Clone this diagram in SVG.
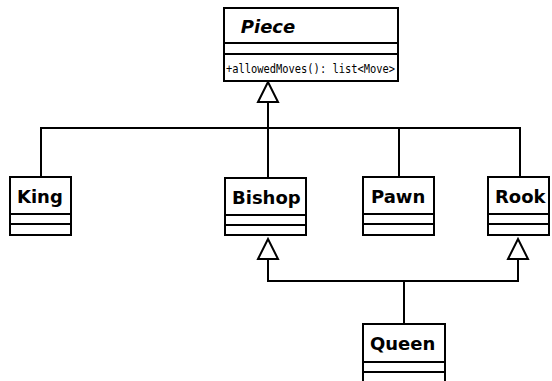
<svg xmlns="http://www.w3.org/2000/svg" width="552" height="381" viewBox="0 0 552 381">
<style>
.box{fill:#fff;stroke:#000;stroke-width:2}
.sep{stroke:#000;stroke-width:2}
.name{font-family:"DejaVu Sans",sans-serif;font-weight:bold;font-size:18px;fill:#000}
.attr{font-family:"DejaVu Sans Mono",monospace;font-size:12.5px;fill:#000}
.conn{fill:none;stroke:#000;stroke-width:2}
</style>
<defs>
<marker id="gen" markerUnits="userSpaceOnUse" markerWidth="24" markerHeight="24" viewBox="-2 -2 24 24" refX="20" refY="10" orient="auto">
<path d="M0,0 L20,10 L0,20 z" fill="#fff" stroke="#000" stroke-width="2"/>
</marker>
</defs>
<rect width="552" height="381" fill="#fff"/>
<g id="connectors">
<path class="conn" d="M41,177 V128 H520 V177"/>
<path class="conn" d="M399,177 V128"/>
<path class="conn" d="M268,178 V82" marker-end="url(#gen)"/>
<path class="conn" d="M404,324 V281 H268 V239" marker-end="url(#gen)"/>
<path class="conn" d="M404,281 H518 V239" marker-end="url(#gen)"/>
</g>
<g id="Piece">
<rect class="box" x="224" y="8" width="174" height="73"/>
<line class="sep" x1="224" y1="43" x2="398" y2="43"/>
<line class="sep" x1="224" y1="54" x2="398" y2="54"/>
<text class="name" x="268" y="33" text-anchor="middle" font-style="italic">Piece</text>
<text class="attr" x="226" y="73" textLength="169" lengthAdjust="spacingAndGlyphs">+allowedMoves(): list&lt;Move&gt;</text>
</g>
<g id="King">
<rect class="box" x="10" y="177" width="61" height="58"/>
<line class="sep" x1="10" y1="214" x2="71" y2="214"/>
<line class="sep" x1="10" y1="224" x2="71" y2="224"/>
<text class="name" x="17" y="203">King</text>
</g>
<g id="Bishop">
<rect class="box" x="225" y="178" width="81" height="57"/>
<line class="sep" x1="225" y1="215" x2="306" y2="215"/>
<line class="sep" x1="225" y1="225" x2="306" y2="225"/>
<text class="name" x="232" y="204">Bishop</text>
</g>
<g id="Pawn">
<rect class="box" x="363" y="177" width="71" height="58"/>
<line class="sep" x1="363" y1="214" x2="434" y2="214"/>
<line class="sep" x1="363" y1="224" x2="434" y2="224"/>
<text class="name" x="371" y="203">Pawn</text>
</g>
<g id="Rook">
<rect class="box" x="488" y="177" width="61" height="58"/>
<line class="sep" x1="488" y1="214" x2="549" y2="214"/>
<line class="sep" x1="488" y1="224" x2="549" y2="224"/>
<text class="name" x="495" y="203">Rook</text>
</g>
<g id="Queen">
<rect class="box" x="363" y="324" width="82" height="70"/>
<line class="sep" x1="363" y1="362" x2="445" y2="362"/>
<line class="sep" x1="363" y1="372" x2="445" y2="372"/>
<text class="name" x="370" y="350">Queen</text>
</g>
</svg>
